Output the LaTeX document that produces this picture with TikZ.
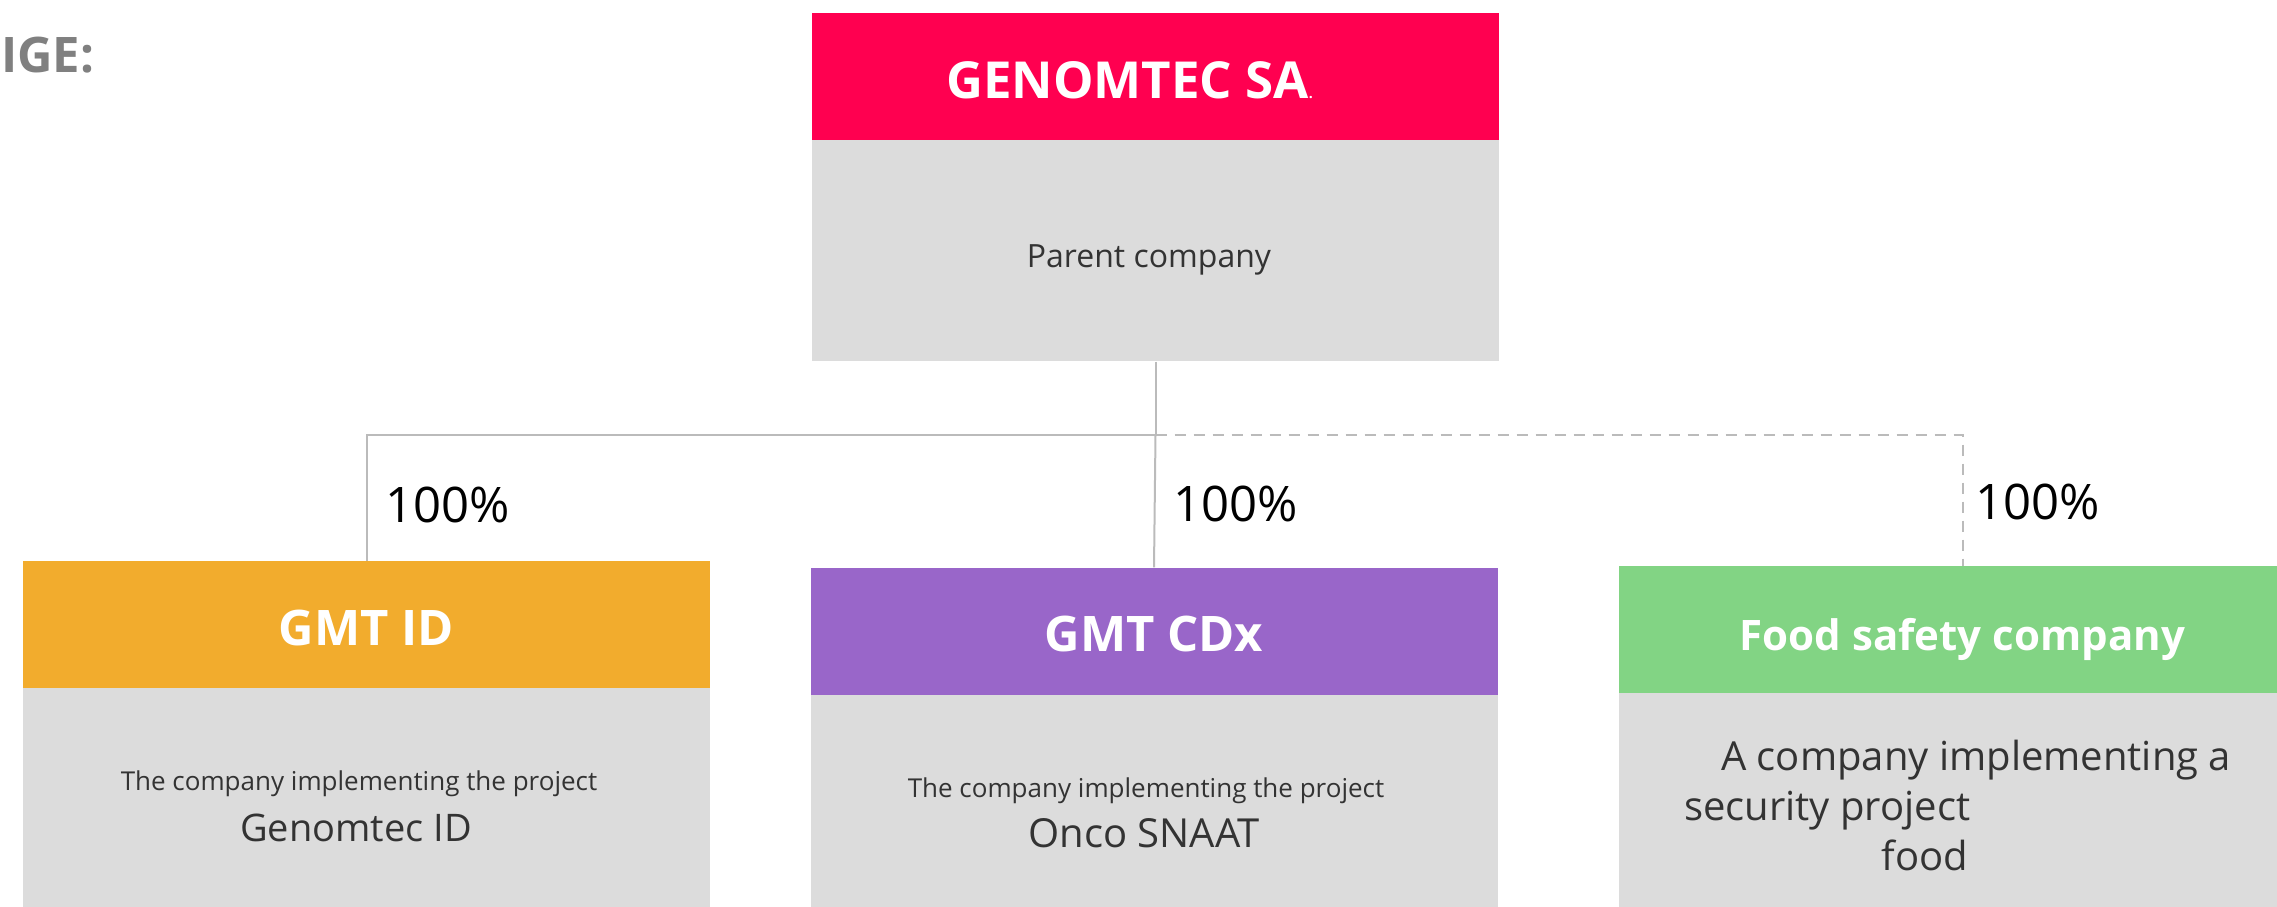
\documentclass[tikz,border=0pt]{standalone}
\usepackage{fontspec}
\setmainfont{Open Sans}
\usepackage{xcolor}
\usetikzlibrary{positioning}

\definecolor{gtred}{HTML}{FF0050}
\definecolor{gtorange}{HTML}{F2AC2D}
\definecolor{gtpurple}{HTML}{9966C9}
\definecolor{gtgreen}{HTML}{82D484}
\definecolor{gtgrey}{HTML}{DCDCDC}
\definecolor{gtline}{HTML}{BBBBBB}
\definecolor{gttext}{HTML}{333333}
\definecolor{gtlabel}{HTML}{808080}

\newcommand{\fsz}[1]{\fontsize{#1}{#1}\selectfont}

\begin{document}
\begin{tikzpicture}[x=1pt, y=-1pt,
    headbox/.style={minimum width=687pt, minimum height=127pt, inner sep=0pt, text=white, font=\bfseries\fsz{49}, text height=41pt, text depth=0pt},
    bodybox/.style={fill=gtgrey, minimum width=687pt, inner sep=0pt},
    link/.style={draw=gtline, line width=2pt},
    share/.style={anchor=base west, inner sep=0pt, text=black, font=\fsz{49}},
    note/.style={anchor=base, inner sep=0pt, text=gttext, font=\fsz{26}},
    proj/.style={anchor=base, inner sep=0pt, text=gttext, font=\fsz{38}}]
    \useasboundingbox (0,0) rectangle (2277,906);
    \node[anchor=base west, inner sep=0pt, text=gtlabel, font=\bfseries\fsz{49}] (heading) at (1,72) {IGE:};

    % parent
    \node[headbox, fill=gtred] (genomtec) at (1155.5,76.5) {};
    \node[bodybox, below=0pt of genomtec, minimum height=221pt] (parent) {};
    \node[anchor=base west, inner sep=0pt, text=white, font=\bfseries\fsz{51}] (gentitle) at (946,98) {GENOMTEC SA{\fsz{14}.}};
    \node[anchor=base, inner sep=0pt, text=gttext, font=\fsz{32}] (parentnote) at (1149,267) {Parent company};

    % subsidiaries
    \node[headbox, fill=gtorange] (gmtid) at (366.5,624.5) {GMT ID};
    \node[bodybox, below=0pt of gmtid, minimum height=240pt] (gmtidbody) {};
    \node[note] (idnote) at (359,790) {The company implementing the project};
    \node[proj] (idname) at (356,841) {Genomtec ID};

    \node[headbox, fill=gtpurple] (gmtcdx) at (1154,631) {GMT CDx};
    \node[bodybox, below=0pt of gmtcdx, minimum height=240pt] (gmtcdxbody) {};
    \node[note] (cdxnote) at (1146,797) {The company implementing the project};
    \node[proj, font=\fsz{40}] (cdxname) at (1144,847) {Onco SNAAT};

    \node[headbox, fill=gtgreen, font=\bfseries\fsz{42}] (food) at (1962.5,629.5) {Food safety company};
    \node[bodybox, below=0pt of food, minimum height=240pt] (foodbody) {};
    \node[proj, anchor=base west, font=\fsz{40}] (foodnoteA) at (1721,770) {A company implementing a};
    \node[proj, anchor=base west, font=\fsz{40}] (foodnoteB) at (1684,820) {security project};
    \node[proj, anchor=base east, font=\fsz{40}] (foodnoteC) at (1968,870) {food};

    % ownership links
    \draw[link] (parent.south) -- ++(0,73) coordinate (bus);
    \draw[link] (bus) -| (gmtid.north);
    \draw[link] (bus) -- (gmtcdx.north);
    \draw[link, dash pattern=on 11pt off 8pt] (bus) -| (food.north);

    \node[share] (idshare) at (385,522) {100\%};
    \node[share] (cdxshare) at (1173,521) {100\%};
    \node[share] (foodshare) at (1975,519) {100\%};
\end{tikzpicture}
\end{document}
